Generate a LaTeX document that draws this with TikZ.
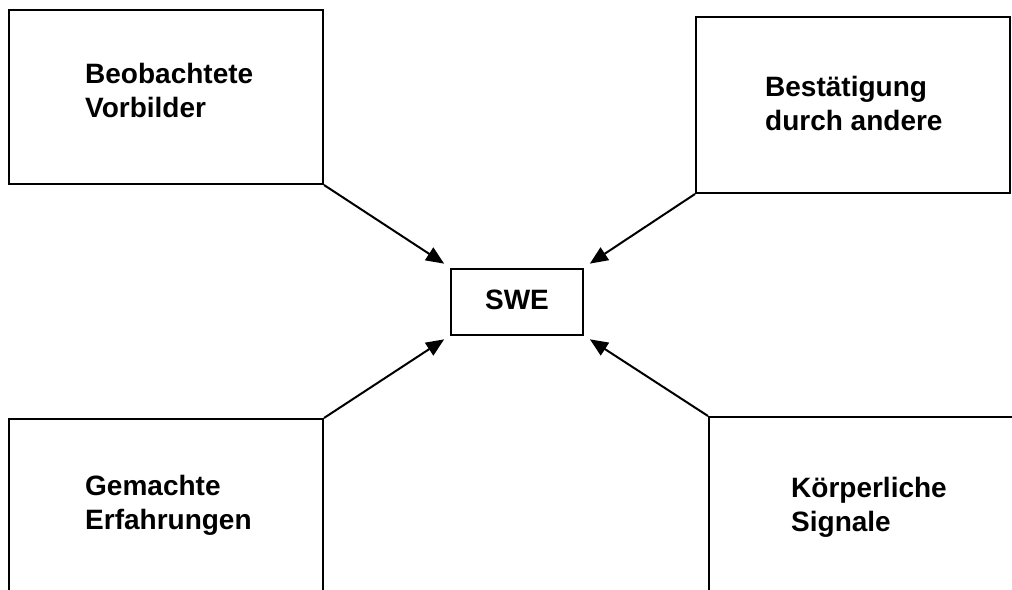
\documentclass[tikz,border=0pt]{standalone}
\usepackage{fontspec}
\setmainfont{Liberation Sans}
\usetikzlibrary{arrows.meta}
\tikzset{
    % Plain outlined box, all sizes in pixels of the original
    outline box/.style={draw, line width=2pt, inner sep=0pt},
%
    % Bold text sitting at the top left of its box
    box text/.style={font=\fontsize{28}{34}\selectfont\bfseries,
        align=left, inner sep=0pt, anchor=north west},
%
    % Connector running into the middle box
    feed/.style={line width=2pt, -{Triangle[length=18pt, width=15pt]},
        shorten >=7pt}}

\begin{document}
\begin{tikzpicture}[x=1pt, y=-1pt]

\useasboundingbox (0,0) rectangle (1012,589);
\clip (0,0) rectangle (1012,589);

\node [outline box, minimum width=314pt, minimum height=174pt]
    (vorbilder) at (166,97) {};
\node [box text] (vorbilder text) at (85,63) {Beobachtete\\Vorbilder};

\node [outline box, minimum width=314pt, minimum height=176pt]
    (bestaetigung) at (853,105) {};
\node [box text] (bestaetigung text) at (765,76) {Bestätigung\\durch andere};

\node [outline box, minimum width=314pt, minimum height=200pt]
    (erfahrungen) at (166,519) {};
\node [box text] (erfahrungen text) at (85,475) {Gemachte\\Erfahrungen};

\node [outline box, minimum width=330pt, minimum height=200pt]
    (signale) at (874,517) {};
\node [box text] (signale text) at (791,477) {Körperliche\\Signale};

\node [outline box, minimum width=132pt, minimum height=66pt,
    font=\fontsize{28}{34}\selectfont\bfseries, text depth=3pt]
    (swe) at (517,301.5) {SWE};

\draw [feed] (vorbilder.south east) -- (swe.north west);
\draw [feed] (bestaetigung.south west) -- (swe.north east);
\draw [feed] (erfahrungen.north east) -- (swe.south west);
\draw [feed] (signale.north west) -- (swe.south east);

\end{tikzpicture}
\end{document}
